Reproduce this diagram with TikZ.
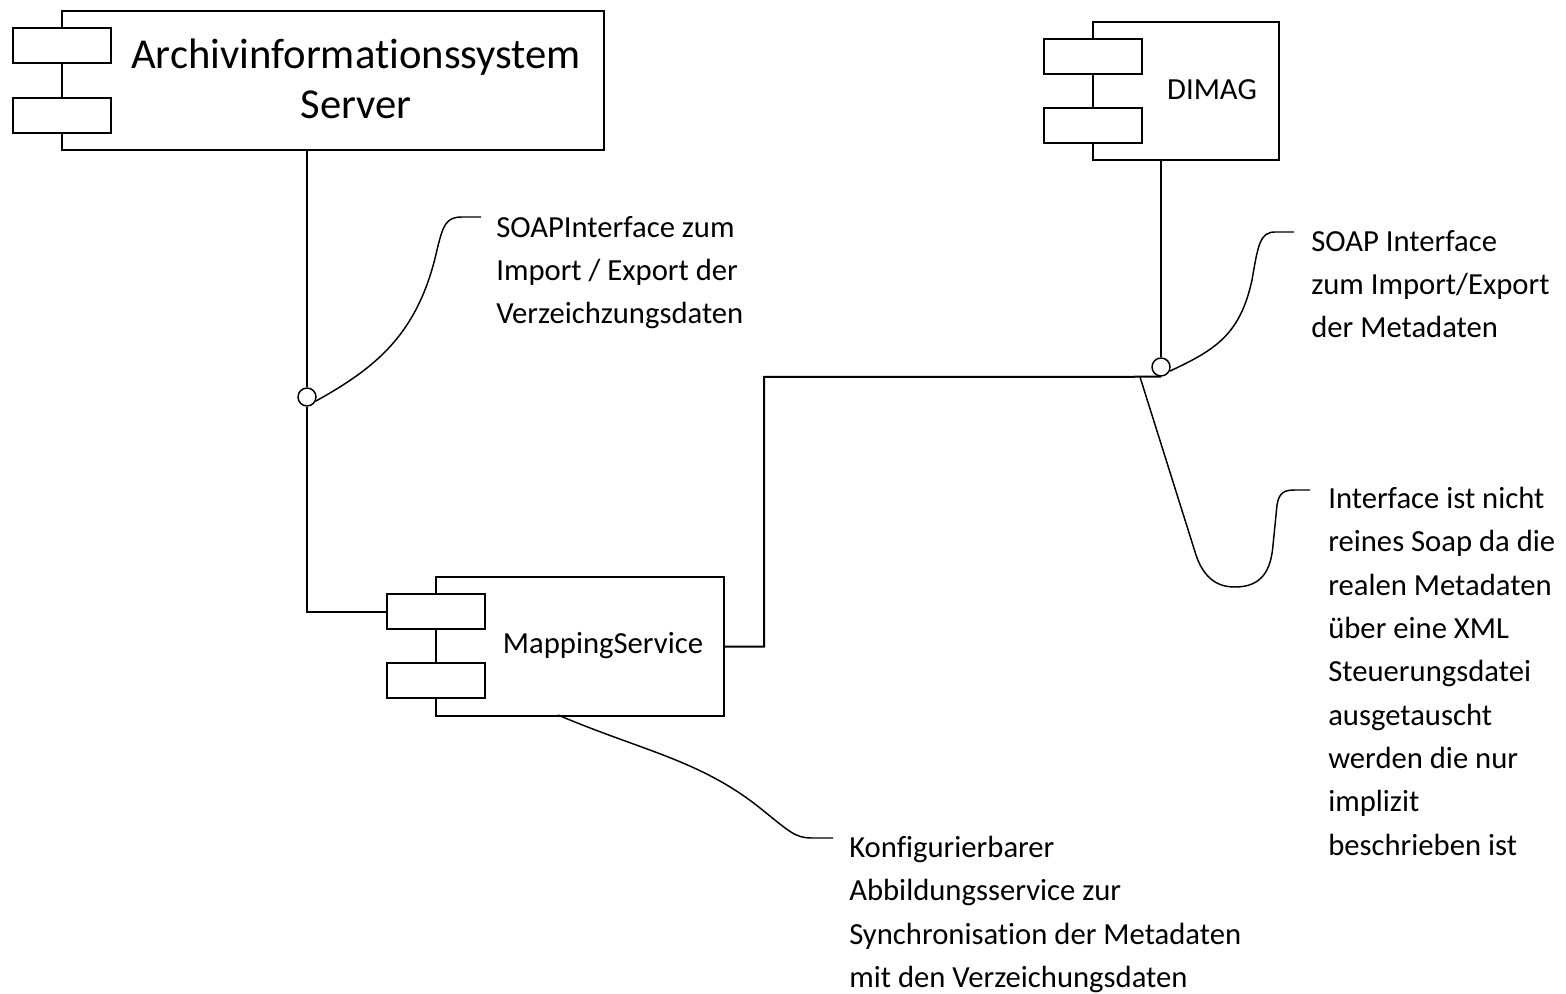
\documentclass[tikz,border=0pt]{standalone}
\usepackage{fontspec}
\setmainfont[Ligatures=NoCommon]{Carlito}
\begin{document}
\begin{tikzpicture}[x=0.75pt,y=0.75pt,yscale=-1,xscale=1,
	comp/.style={draw,line width=1.5pt,fill=white,inner sep=0pt,anchor=north west},
	port/.style={draw,line width=1.5pt,fill=white,inner sep=0pt,anchor=north west,minimum width=73.5pt,minimum height=26.25pt},
	lbl/.style={inner sep=0pt,align=center,font=\fontsize{23}{32.5}\selectfont},
	note/.style={anchor=north west,inner sep=0pt,align=left,font=\fontsize{23}{32.5}\selectfont},
	wire/.style={line width=1.5pt},
	callout/.style={line width=1.1pt},
	ball/.style={draw,circle,line width=1.1pt,fill=white,inner sep=0pt,minimum size=13.5pt}]
	\useasboundingbox (0,0) rectangle (1566,994);
	
	%Component: Archivinformationssystem Server
	\node [comp,minimum width=406.5pt,minimum height=104.25pt] (ais) at (61,10) {};
	\node [port] (aisPortA) at (12,27) {};
	\node [port] (aisPortB) at (12,97) {};
	\node [lbl,font=\fontsize{32}{37.5}\selectfont] (aisLbl) at (356,79) {Archivinformationssystem\\Server};
	
	%Component: DIMAG
	\node [comp,minimum width=139.5pt,minimum height=103.5pt] (dimag) at (1092,21) {};
	\node [port] (dimagPortA) at (1043,38) {};
	\node [port] (dimagPortB) at (1043,107) {};
	\node [lbl] (dimagLbl) at (1212,90) {DIMAG};
	
	%Component: MappingService
	\node [comp,minimum width=216pt,minimum height=104.25pt] (ms) at (435,576) {};
	\node [port] (msPortA) at (386,593) {};
	\node [port] (msPortB) at (386,662) {};
	\node [lbl] (msLbl) at (603,646) {MappingService};
	
	%Interfaces
	\node [ball] (ballA) at (307,397) {};
	\node [ball] (ballB) at (1161,367) {};
	\coordinate (bend) at (764,377);
	\coordinate (tapB) at (1140,377);
	\coordinate (tapM) at (558,715);
	
	%Connections
	\draw [wire] (ais.south -| ballA) -- (ballA.north);
	\draw [wire] (ballA.south) |- (msPortA.west);
	\draw [wire] (dimag.south -| ballB) -- (ballB.north);
	\draw [wire] (ballB.south) -- (bend) |- (ms.east);
	
	%Notes
	\node [note] (noteA) at (496,216) {SOAPInterface zum\\Import / Export der\\Verzeichzungsdaten};
	\node [note] (noteB) at (1311,230) {SOAP Interface\\zum Import/Export\\der Metadaten};
	\node [note] (noteC) at (1328,487) {Interface ist nicht\\reines Soap da die\\realen Metadaten\\über eine XML\\Steuerungsdatei\\ausgetauscht\\werden die nur\\implizit\\beschrieben ist};
	\node [note] (noteM) at (849,836) {Konfigurierbarer\\Abbildungsservice zur\\Synchronisation der Metadaten\\mit den Verzeichungsdaten};
	
	%Callouts
	\draw [callout] (ballA.-25) .. controls (375,368) and (418,335) .. (437,250) .. controls (443,225) and (446,217) .. (462,217) -- (481,217);
	\draw [callout] (ballB.-25) .. controls (1215,350) and (1240,335) .. (1252,280) .. controls (1258,245) and (1260,232) .. (1275,232) -- (1294,232);
	\draw [callout] (tapB) -- (1196,555) .. controls (1206,585) and (1225,587) .. (1235,587) .. controls (1262,587) and (1271,570) .. (1273,545) -- (1277,505) .. controls (1279,492) and (1285,490) .. (1295,490) -- (1310,490);
	\draw [callout] (tapM) .. controls (640,750) and (700,760) .. (760,808) .. controls (790,832) and (795,838) .. (812,838) -- (833,838);
\end{tikzpicture}
\end{document}
